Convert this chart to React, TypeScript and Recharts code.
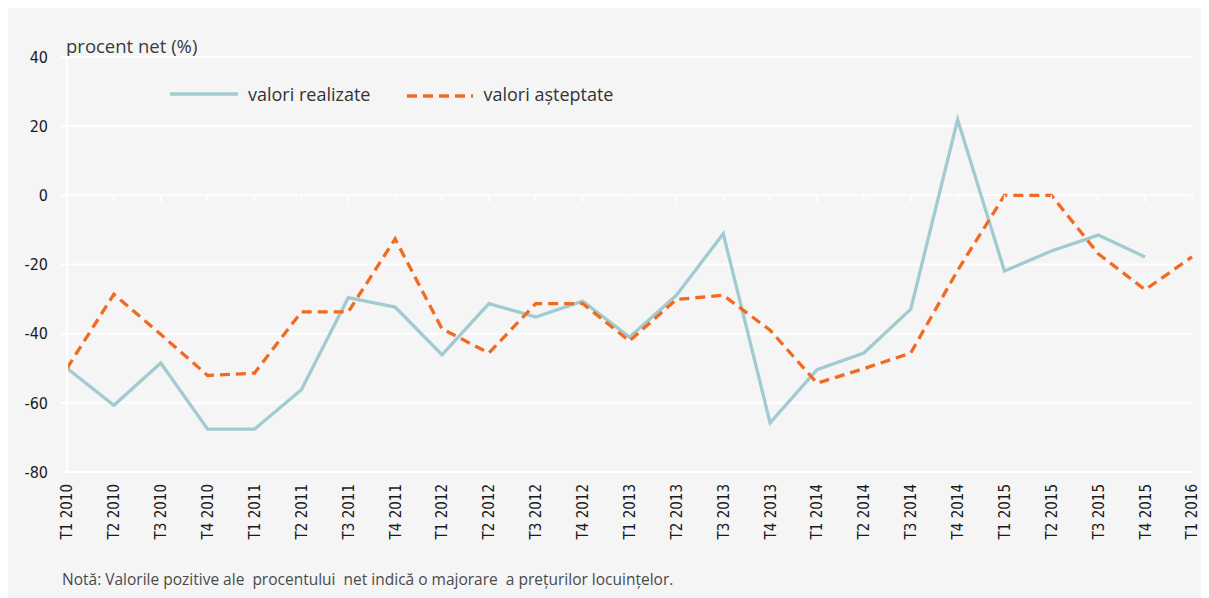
import React from 'react';
import { LineChart, Line, XAxis, YAxis, CartesianGrid, ReferenceDot } from 'recharts';

const quarters = [
  'T1 2010', 'T2 2010', 'T3 2010', 'T4 2010',
  'T1 2011', 'T2 2011', 'T3 2011', 'T4 2011',
  'T1 2012', 'T2 2012', 'T3 2012', 'T4 2012',
  'T1 2013', 'T2 2013', 'T3 2013', 'T4 2013',
  'T1 2014', 'T2 2014', 'T3 2014', 'T4 2014',
  'T1 2015', 'T2 2015', 'T3 2015', 'T4 2015',
  'T1 2016',
];

const realizate = [
  -50.0, -60.7, -48.5, -67.6,
  -67.6, -56.2, -29.6, -32.3,
  -46.1, -31.3, -35.2, -30.6,
  -41.0, -28.9, -11.1, -65.8,
  -50.4, -45.6, -32.9, 21.9,
  -21.9, -16.1, -11.5, -17.8,
  null,
];

const asteptate = [
  -50.0, -28.6, -40.2, -52.1,
  -51.4, -33.7, -33.7, -12.6,
  -38.6, -45.6, -31.3, -31.3,
  -42.1, -30.1, -28.9, -39.0,
  -54.3, -50.1, -45.6, -21.7,
  0.0, 0.0, -16.9, -27.3,
  -17.8,
];

const yTicks = [-80, -60, -40, -20, 0, 20, 40];

const data = quarters.map((q, i) => ({ q, realizate: realizate[i], asteptate: asteptate[i] }));

const BLUE = '#a0cbd1';
const ORANGE = '#f26a21';
const narrow = "'Liberation Sans Narrow', 'DejaVu Sans Condensed', sans-serif";
const soft = "'Open Sans', 'Noto Sans', sans-serif";

const XTick = (props: any) => {
  const { x, y, payload } = props;
  return (
    <text
      x={x}
      y={y + 4}
      dy="0.36em"
      transform={`rotate(-90, ${x}, ${y + 4})`}
      textAnchor="end"
      fontFamily={narrow}
      fontSize={15}
      fill="#1a1a1a"
    >
      {payload.value}
    </text>
  );
};

const ZeroTick = (props: any) => {
  const { cx, cy } = props;
  return <line x1={cx} x2={cx} y1={cy} y2={cy + 7} stroke="#ffffff" strokeWidth={1.5} />;
};

export default function App() {
  return (
    <div style={{ position: 'relative', width: 1201, height: 590, background: '#f5f5f5' }}>
      <div
        style={{
          position: 'absolute', left: 58, top: 25, fontFamily: soft, fontSize: 18.5,
          color: '#3a3a3a', whiteSpace: 'nowrap',
        }}
      >
        procent net (%)
      </div>

      <div style={{ position: 'absolute', left: 162, top: 74, display: 'flex', alignItems: 'center', fontFamily: soft, fontSize: 18, color: '#333', zIndex: 2 }}>
        <svg width={70} height={10}>
          <line x1={0} x2={68} y1={5} y2={5} stroke={BLUE} strokeWidth={3.3} />
        </svg>
        <span style={{ marginLeft: 8, whiteSpace: 'nowrap' }}>valori realizate</span>
        <svg width={70} height={10} style={{ marginLeft: 37 }}>
          <line x1={0} x2={66} y1={7} y2={7} stroke={ORANGE} strokeWidth={3.3} strokeDasharray="10 6" />
        </svg>
        <span style={{ marginLeft: 6, whiteSpace: 'nowrap' }}>valori așteptate</span>
      </div>

      <LineChart
        width={1201}
        height={590}
        data={data}
        margin={{ top: 49, right: 17, left: 9, bottom: 0 }}
      >
        <CartesianGrid vertical={false} stroke="#ffffff" strokeWidth={2} />
        <XAxis
          dataKey="q"
          interval={0}
          axisLine={false}
          tickLine={false}
          height={126}
          tick={<XTick />}
        />
        <YAxis
          domain={[-80, 40]}
          ticks={yTicks}
          width={50}
          axisLine={{ stroke: '#ffffff', strokeWidth: 2 }}
          tickLine={{ stroke: '#ffffff', strokeWidth: 2 }}
          tickSize={6}
          tickMargin={13}
          tick={{ fontFamily: narrow, fontSize: 16, fill: '#1a1a1a' }}
        />
        {quarters.map((q) => (
          <ReferenceDot key={q} x={q} y={0} r={0} shape={<ZeroTick />} />
        ))}
        <Line
          type="linear"
          dataKey="realizate"
          stroke={BLUE}
          strokeWidth={3.3}
          dot={false}
          activeDot={false}
          connectNulls={false}
          isAnimationActive={false}
        />
        <Line
          type="linear"
          dataKey="asteptate"
          stroke={ORANGE}
          strokeWidth={3.3}
          strokeDasharray="10 6"
          dot={false}
          activeDot={false}
          isAnimationActive={false}
        />
      </LineChart>

      <div
        style={{
          position: 'absolute', left: 54, top: 560, fontFamily: soft, fontSize: 15.5,
          color: '#4a4a4a', whiteSpace: 'pre',
        }}
      >
        Notă: Valorile pozitive ale  procentului  net indică o majorare  a prețurilor locuințelor.
      </div>
    </div>
  );
}
